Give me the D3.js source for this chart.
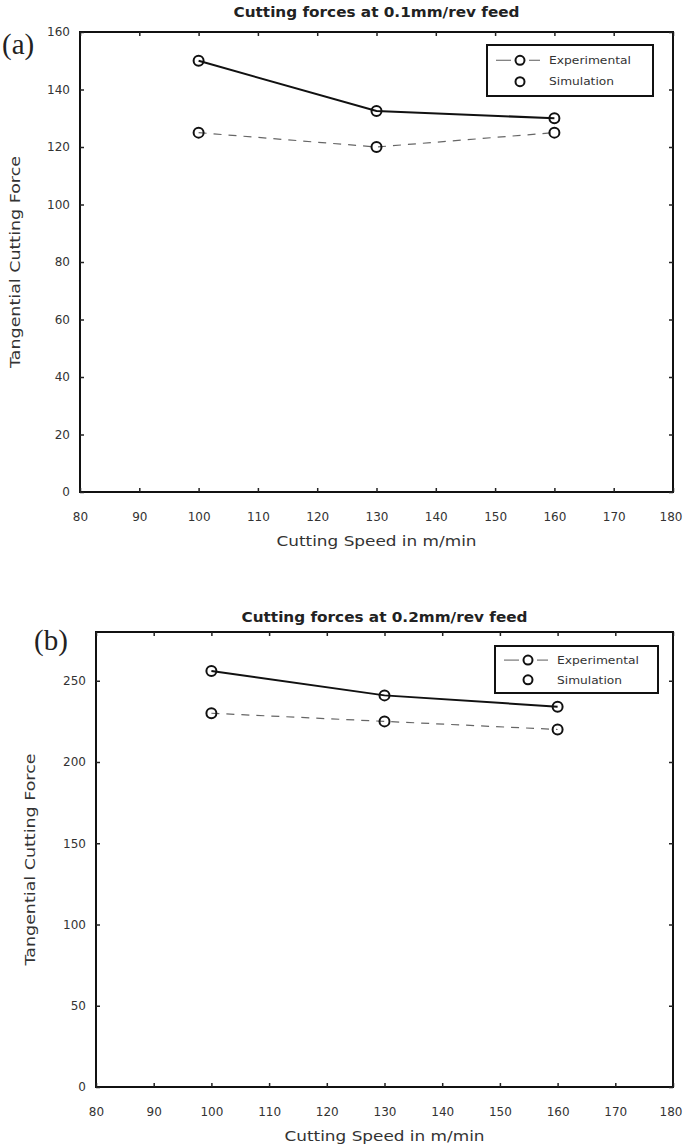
<!DOCTYPE html>
<html>
<head>
<meta charset="utf-8">
<script src="https://cdn.jsdelivr.net/npm/d3@7"></script>
<style>
  html, body { margin: 0; padding: 0; background: #fff; }
  svg { display: block; }
</style>
</head>
<body>
<svg id="chart" width="683" height="1147"></svg>
<script>
// ---- data ----
const speeds = [100, 130, 160];
const xTicks = [80, 90, 100, 110, 120, 130, 140, 150, 160, 170, 180];

const titleA = "Cutting forces at 0.1mm/rev feed";
const expA = [125, 120, 125];
const simA = [150, 132.5, 130];
const yTicksA = [0, 20, 40, 60, 80, 100, 120, 140, 160];

const titleB = "Cutting forces at 0.2mm/rev feed";
const expB = [230, 225, 220];
const simB = [256, 241, 234];
const yTicksB = [0, 50, 100, 150, 200, 250];

const seriesNames = ["Experimental", "Simulation"];
const xLabel = "Cutting Speed in m/min";
const yLabel = "Tangential Cutting Force";

const SANS = "'DejaVu Sans', Verdana, sans-serif";
const SERIF = "'Liberation Serif', 'Times New Roman', serif";

const svg = d3.select("#chart");

function panel(cfg) {
  const g = svg.append("g");
  const x = d3.scaleLinear().domain([80, 180]).range([cfg.left, cfg.right]);
  const y = d3.scaleLinear().domain([0, cfg.ymax]).range([cfg.bottom, cfg.top]);

  // frame
  g.append("rect")
    .attr("x", cfg.left).attr("y", cfg.top)
    .attr("width", cfg.right - cfg.left).attr("height", cfg.bottom - cfg.top)
    .attr("fill", "none").attr("stroke", "#111").attr("stroke-width", 2);

  const tl = 4;
  const xb = g.append("g").attr("transform", `translate(0,${cfg.bottom})`)
    .call(d3.axisBottom(x).tickValues(xTicks).tickSize(-tl).tickPadding(20).tickFormat(d3.format("d")));
  const xt = g.append("g").attr("transform", `translate(0,${cfg.top})`)
    .call(d3.axisTop(x).tickValues(xTicks).tickSize(-tl).tickFormat(""));
  const yl = g.append("g").attr("transform", `translate(${cfg.left},0)`)
    .call(d3.axisLeft(y).tickValues(cfg.yTicks).tickSize(-tl).tickPadding(10).tickFormat(d3.format("d")));
  const yr = g.append("g").attr("transform", `translate(${cfg.right},0)`)
    .call(d3.axisRight(y).tickValues(cfg.yTicks).tickSize(-tl).tickFormat(""));

  [xb, xt, yl, yr].forEach(a => {
    a.select(".domain").remove();
    a.selectAll(".tick line").attr("stroke", "#222").attr("stroke-width", 1.5);
    a.selectAll(".tick text").style("font-size", "12px").style("fill", "#333")
      .style("font-family", SANS);
  });
  // keep the last x tick label inside the page edge
  xb.selectAll(".tick text").filter(d => d === 180)
    .attr("text-anchor", "end").attr("x", 682 - cfg.right);

  // lines
  const line = d3.line().x((d, i) => x(speeds[i])).y(d => y(d));
  g.append("path").datum(cfg.exp).attr("d", line)
    .attr("fill", "none").attr("stroke", "#666").attr("stroke-width", 1.2)
    .attr("stroke-dasharray", "8,7");
  g.append("path").datum(cfg.sim).attr("d", line)
    .attr("fill", "none").attr("stroke", "#111").attr("stroke-width", 2);

  [cfg.exp, cfg.sim].forEach(vals => {
    g.selectAll(null).data(vals).enter().append("circle")
      .attr("cx", (d, i) => x(speeds[i])).attr("cy", d => y(d)).attr("r", 5)
      .attr("fill", "none").attr("stroke", "#111").attr("stroke-width", 2);
  });

  // title
  g.append("text").attr("x", (cfg.left + cfg.right) / 2).attr("y", cfg.titleY)
    .attr("text-anchor", "middle")
    .attr("textLength", 286).attr("lengthAdjust", "spacingAndGlyphs")
    .style("font-family", SANS).style("font-size", "14px").style("font-weight", "bold")
    .style("fill", "#222").text(cfg.title);

  // x label
  g.append("text").attr("x", (cfg.left + cfg.right) / 2).attr("y", cfg.bottom + 54)
    .attr("text-anchor", "middle")
    .attr("textLength", 200).attr("lengthAdjust", "spacingAndGlyphs")
    .style("font-family", SANS).style("font-size", "14px").style("fill", "#333").text(xLabel);

  // y label
  g.append("text")
    .attr("transform", `translate(${cfg.ylabX},${(cfg.top + cfg.bottom) / 2}) rotate(-90)`)
    .attr("text-anchor", "middle")
    .attr("textLength", 212).attr("lengthAdjust", "spacingAndGlyphs")
    .style("font-family", SANS).style("font-size", "14px").style("fill", "#333").text(yLabel);

  // panel letter
  g.append("text").attr("x", cfg.letterX).attr("y", cfg.letterY)
    .style("font-family", SERIF).style("font-size", "29px").style("fill", "#222").text(cfg.letter);

  // legend
  const L = cfg.legend;
  g.append("rect").attr("x", L.x).attr("y", L.y).attr("width", L.w).attr("height", L.h)
    .attr("fill", "#fff").attr("stroke", "#111").attr("stroke-width", 2);
  const r1 = L.y + L.h * 0.3, r2 = L.y + L.h * 0.72;
  const mx = L.x + 33;
  g.append("line").attr("x1", L.x + 9).attr("x2", mx - 9).attr("y1", r1).attr("y2", r1)
    .attr("stroke", "#777").attr("stroke-width", 1.2);
  g.append("line").attr("x1", mx + 9).attr("x2", mx + 20).attr("y1", r1).attr("y2", r1)
    .attr("stroke", "#777").attr("stroke-width", 1.2);
  const lens = [82, 65];
  [r1, r2].forEach((ry, i) => {
    g.append("circle").attr("cx", mx).attr("cy", ry).attr("r", 4.5)
      .attr("fill", "none").attr("stroke", "#111").attr("stroke-width", 2);
    g.append("text").attr("x", L.x + 62).attr("y", ry).attr("dy", "0.35em")
      .attr("textLength", lens[i]).attr("lengthAdjust", "spacingAndGlyphs")
      .style("font-family", SANS).style("font-size", "10.5px").style("fill", "#333")
      .text(seriesNames[i]);
  });
}

panel({
  left: 80, right: 673, top: 32, bottom: 492, ymax: 160, yTicks: yTicksA,
  exp: expA, sim: simA, title: titleA, titleY: 17, ylabX: 20, letter: "(a)", letterX: 2, letterY: 54,
  legend: { x: 487, y: 45, w: 166, h: 51 }
});

panel({
  left: 96, right: 673, top: 632, bottom: 1087, ymax: 280, yTicks: yTicksB,
  exp: expB, sim: simB, title: titleB, titleY: 622, ylabX: 35, letter: "(b)", letterX: 34, letterY: 650,
  legend: { x: 495, y: 646, w: 163, h: 47 }
});
</script>
</body>
</html>
